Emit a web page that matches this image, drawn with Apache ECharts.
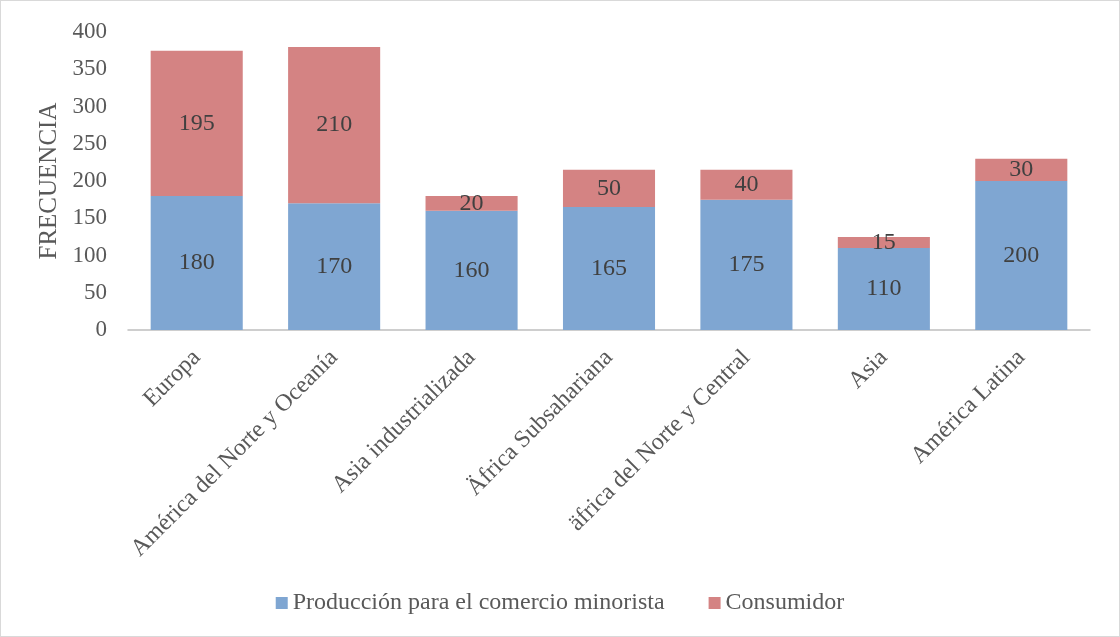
<!DOCTYPE html>
<html><head><meta charset="utf-8">
<script src="https://cdn.jsdelivr.net/npm/echarts@6/dist/echarts.min.js"></script>
<style>html,body{margin:0;padding:0;background:#fff}#c{width:1118px;height:635px;border:1px solid #d9d9d9}</style>
</head><body><div id="c"></div>
<script>
const categories = ["Europa","América del Norte y Oceanía","Asia industrializada","Äfrica Subsahariana","äfrica del Norte y Central","Asia","América Latina"];
const produccion = [180,170,160,165,175,110,200];
const consumidor = [195,210,20,50,40,15,30];
const seriesNames = ["Producción para el comercio minorista","Consumidor"];
const font = "Liberation Serif, Times New Roman, serif";
const chart = echarts.init(document.getElementById('c'));
chart.setOption({
  animation:false,
  textStyle:{fontFamily:font,color:'#595959'},
  grid:{left:127,right:29,top:31,bottom:306,containLabel:false},
  legend:{bottom:16,left:'center',itemWidth:12,itemHeight:12,itemGap:44,icon:'rect',
    textStyle:{fontFamily:font,fontSize:24,color:'#595959'},data:seriesNames},
  xAxis:{type:'category',data:categories,
    axisLine:{lineStyle:{color:'#bfbfbf',width:1.5}},axisTick:{show:false},
    axisLabel:{rotate:45,fontFamily:font,fontSize:24,color:'#595959',margin:24,interval:0}},
  yAxis:{type:'value',min:0,max:400,interval:50,name:'FRECUENCIA',nameLocation:'middle',nameGap:64,
    nameTextStyle:{fontFamily:font,fontSize:25,color:'#595959'},
    splitLine:{show:false},axisLine:{show:false},axisTick:{show:false},
    axisLabel:{fontFamily:font,fontSize:23,color:'#595959',margin:21}},
  series:[
    {name:seriesNames[0],type:'bar',stack:'a',data:produccion,barWidth:'67%',
     itemStyle:{color:'#7fa6d2'},label:{show:true,position:'inside',fontFamily:font,fontSize:24,color:'#404040'}},
    {name:seriesNames[1],type:'bar',stack:'a',data:consumidor,barWidth:'67%',
     itemStyle:{color:'#d48383'},label:{show:true,position:'inside',fontFamily:font,fontSize:24,color:'#404040'}}
  ]
});
</script></body></html>
